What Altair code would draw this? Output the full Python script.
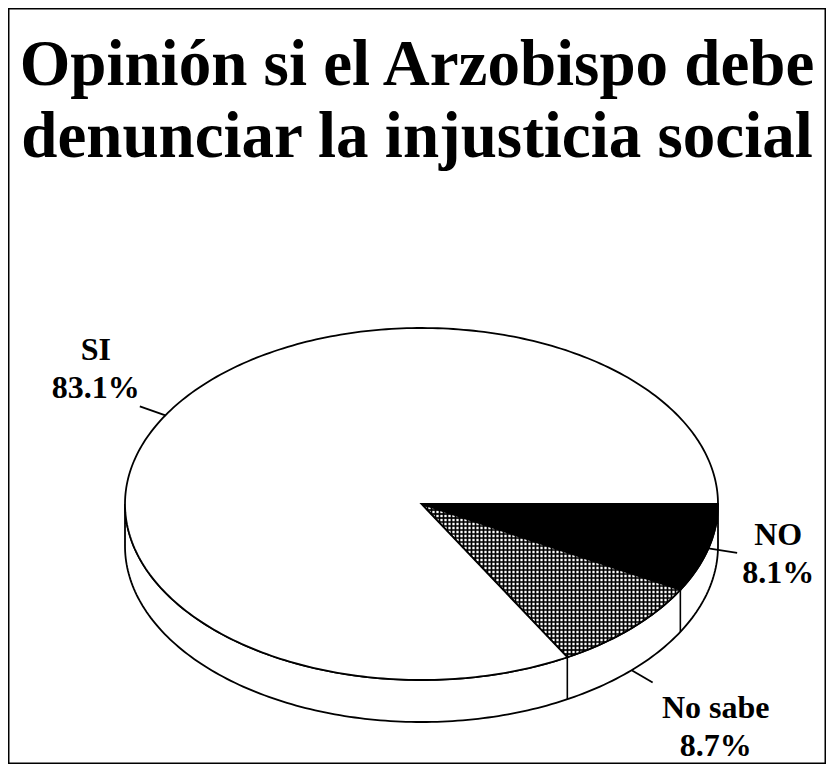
import math
import altair as alt
import pandas as pd

# ---------------- data ----------------
categories = ["NO", "No sabe", "SI"]
percentages = [8.1, 8.7, 83.1]
title_lines = ["Opinión si el Arzobispo debe", "denunciar la injusticia social"]

# ---------------- styling / layout ----------------
slice_fills = ["#000000", "#ffffff", "#ffffff"]
hatched = "No sabe"
W, H = 818, 756            # plot area (px)
PX = 296.5                 # px per unit of horizontal radius
CX, CY = 413.5, 496.0      # pie centre inside the plot area (px)
RY = 0.5936                # vertical squash of the pie top
DEPTH = 0.1417             # thickness of the pie wall
LEADER = 1.1               # leader end, relative radius
HATCH = 4.0 / PX           # cross-hatch spacing
leader_from_base = {"NO": False, "No sabe": True, "SI": False}
label_offsets = {"NO": (41, -8), "No sabe": (63, 35), "SI": (-44, -46)}
FONT = "Liberation Serif"

total = sum(percentages)
spans = []
a = 0.0
for p in percentages:
    b = a + p / total * 360.0
    spans.append((a, b))
    a = b


def pt(t, lift=0.0):
    r = math.radians(t)
    return math.cos(r), RY * math.sin(r) + lift


# slices of the top face
rows = []
polys = {}
for cat, (a0, a1) in zip(categories, spans):
    poly = [(0.0, 0.0)]
    n = max(2, int(math.ceil(a1 - a0)))
    for i in range(n + 1):
        poly.append(pt(a0 + (a1 - a0) * i / n))
    polys[cat] = poly
    for i, (x, y) in enumerate(poly):
        rows.append(dict(cat=cat, o=i, x=x, y=y))
slices = pd.DataFrame(rows)

# visible wall (front half)
wall = []
k = 0
for t in range(0, 181):
    x, y = pt(t)
    wall.append(dict(o=k, x=x, y=y)); k += 1
for t in range(180, -1, -1):
    x, y = pt(t, DEPTH)
    wall.append(dict(o=k, x=x, y=y)); k += 1
wall = pd.DataFrame(wall)

# wall edges at slice boundaries
edges = []
for (a0, a1) in spans:
    if 0 < a1 < 180:
        x, y = pt(a1)
        edges.append(dict(x=x, y=y, y2=y + DEPTH))
edges = pd.DataFrame(edges)


# cross-hatch of the "No sabe" slice, clipped to its (convex) outline
def cut(poly, c, axis):
    o = 1 - axis
    hits = []
    m = len(poly)
    for i in range(m):
        p, q = poly[i], poly[(i + 1) % m]
        if p[axis] == q[axis]:
            continue
        if (p[axis] - c) * (q[axis] - c) <= 0:
            s = (c - p[axis]) / (q[axis] - p[axis])
            hits.append(p[o] + s * (q[o] - p[o]))
    if len(hits) < 2:
        return None
    return min(hits), max(hits)


hpoly = polys[hatched]
hx = [p[0] for p in hpoly]
hy = [p[1] for p in hpoly]
hlines, vlines = [], []
c = min(hy) + HATCH / 2
while c < max(hy):
    seg = cut(hpoly, c, 1)
    if seg:
        hlines.append(dict(y=c, x=seg[0], x2=seg[1]))
    c += HATCH
c = min(hx) + HATCH / 2
while c < max(hx):
    seg = cut(hpoly, c, 0)
    if seg:
        vlines.append(dict(x=c, y=seg[0], y2=seg[1]))
    c += HATCH
hlines = pd.DataFrame(hlines)
vlines = pd.DataFrame(vlines)

# leaders + labels
lead = []
for cat, p, (a0, a1) in zip(categories, percentages, spans):
    m = (a0 + a1) / 2
    lift = DEPTH if leader_from_base[cat] else 0.0
    x, y = pt(m, lift)
    x2 = x * LEADER
    y2 = (y - lift) * LEADER + lift
    lead.append(dict(cat=cat, x=x, y=y, x2=x2, y2=y2, label=f"{cat}\n{p:.1f}%"))
lead = pd.DataFrame(lead)

xs = alt.Scale(domain=[-CX / PX, (W - CX) / PX], nice=False, zero=False)
ys = alt.Scale(domain=[-CY / PX, (H - CY) / PX], nice=False, zero=False, reverse=True)


def X(f):
    return alt.X(f, type="quantitative", scale=xs, axis=None)


def Y(f):
    return alt.Y(f, type="quantitative", scale=ys, axis=None)


wall_layer = alt.Chart(wall).mark_line(
    interpolate="linear-closed", fill="white", stroke="black", strokeWidth=1.8
).encode(x=X("x"), y=Y("y"), order=alt.Order("o:Q"))

top_layer = alt.Chart(slices).mark_line(
    interpolate="linear-closed", stroke="black", strokeWidth=1.8
).encode(
    x=X("x"), y=Y("y"), order=alt.Order("o:Q"), detail="cat:N",
    fill=alt.Fill("cat:N", scale=alt.Scale(domain=categories, range=slice_fills), legend=None),
)

hatch_h = alt.Chart(hlines).mark_rule(stroke="black", strokeWidth=1.7).encode(
    x=X("x"), x2="x2:Q", y=Y("y")
)
hatch_v = alt.Chart(vlines).mark_rule(stroke="black", strokeWidth=1.7).encode(
    x=X("x"), y=Y("y"), y2="y2:Q"
)

edge_layer = alt.Chart(edges).mark_rule(stroke="black", strokeWidth=1.6).encode(
    x=X("x"), y=Y("y"), y2="y2:Q"
)

leader_layer = alt.Chart(lead).mark_rule(stroke="black", strokeWidth=1.8).encode(
    x=X("x"), y=Y("y"), x2="x2:Q", y2="y2:Q"
)

label_layers = []
for cat in categories:
    dx, dy = label_offsets[cat]
    label_layers.append(
        alt.Chart(lead).transform_filter(alt.datum.cat == cat).mark_text(
            font=FONT, fontSize=32, fontWeight="bold", color="black",
            lineBreak="\n", lineHeight=38, align="center", baseline="alphabetic",
            dx=dx, dy=dy,
        ).encode(x=X("x2"), y=Y("y2"), text="label:N")
    )

chart = alt.layer(
    wall_layer, top_layer, hatch_h, hatch_v, edge_layer, leader_layer, *label_layers
).properties(
    width=W, height=H,
    title=alt.TitleParams(
        text=title_lines, font=FONT, fontSize=65, fontWeight="bold", color="black",
        anchor="middle", baseline="alphabetic", lineHeight=72, offset=-214,
    ),
    autosize=alt.AutoSizeParams(type="none"),
    padding=0,
).configure_view(stroke="black", strokeWidth=3)

chart.save("out.html", embed_options={"renderer": "svg", "actions": False})
